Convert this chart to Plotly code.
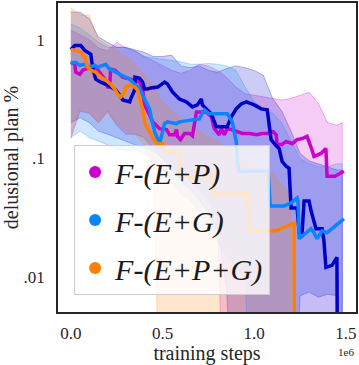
import numpy as np
import plotly.graph_objects as go

# training steps are in millions (axis shows "1e6" offset)
dark_x = [0.000, 0.022, 0.054, 0.076, 0.109, 0.120, 0.136, 0.163, 0.201, 0.217, 0.245, 0.266, 0.283, 0.321,
          0.326, 0.348, 0.350, 0.375, 0.391, 0.402, 0.418, 0.435, 0.473, 0.489, 0.511, 0.527, 0.554, 0.592,
          0.630, 0.663, 0.690, 0.712, 0.717, 0.739, 0.766, 0.793, 0.853, 0.875, 0.902, 0.929, 0.957, 1.000,
          1.038, 1.071, 1.082, 1.092, 1.114, 1.136, 1.152, 1.174, 1.190, 1.201, 1.234, 1.245, 1.261, 1.272,
          1.299, 1.310, 1.337, 1.370, 1.380, 1.391, 1.424, 1.451, 1.457]
dark_y = [0.825, 0.891, 0.891, 0.810, 0.750, 0.562, 0.464, 0.438, 0.414, 0.398, 0.376, 0.341, 0.310, 0.299,
          0.316, 0.376, 0.483, 0.473, 0.438, 0.383, 0.383, 0.391, 0.398, 0.414, 0.438, 0.422, 0.362, 0.316,
          0.299, 0.271, 0.282, 0.316, 0.282, 0.261, 0.237, 0.185, 0.185, 0.224, 0.261, 0.287, 0.299, 0.282,
          0.261, 0.256, 0.185, 0.144, 0.131, 0.121, 0.0944, 0.0858, 0.0825, 0.0383, 0.0383, 0.0237, 0.0237,
          0.0438, 0.0438, 0.0362, 0.0256, 0.0256, 0.0203, 0.0121, 0.0126, 0.0147, 0.0001]

ep_x = [0.000, 0.022, 0.027, 0.049, 0.065, 0.082, 0.109, 0.141, 0.185, 0.201, 0.212, 0.217, 0.239, 0.266,
        0.283, 0.348, 0.375, 0.391, 0.402, 0.429, 0.446, 0.484, 0.522, 0.538, 0.565, 0.576, 0.582, 0.598,
        0.620, 0.647, 0.663, 0.685, 0.739, 0.766, 0.783, 0.810, 0.821, 0.837, 0.853, 0.875, 0.902, 0.935,
        0.973, 1.016, 1.043, 1.071, 1.092, 1.103, 1.120, 1.125, 1.152, 1.174, 1.207, 1.234, 1.261, 1.288,
        1.310, 1.326, 1.364, 1.391, 1.397, 1.440, 1.489]
ep_y = [0.643, 0.619, 0.531, 0.511, 0.552, 0.562, 0.585, 0.573, 0.464, 0.398, 0.398, 0.562, 0.552, 0.511,
        0.483, 0.455, 0.438, 0.383, 0.282, 0.233, 0.203, 0.178, 0.175, 0.158, 0.158, 0.175, 0.153, 0.144,
        0.162, 0.162, 0.155, 0.246, 0.246, 0.224, 0.178, 0.158, 0.178, 0.158, 0.178, 0.175, 0.168, 0.162,
        0.162, 0.158, 0.162, 0.162, 0.165, 0.168, 0.158, 0.131, 0.131, 0.139, 0.133, 0.144, 0.147, 0.153,
        0.124, 0.104, 0.110, 0.121, 0.0708, 0.0708, 0.0779]

eg_x = [0.000, 0.027, 0.049, 0.076, 0.103, 0.130, 0.147, 0.174, 0.190, 0.212, 0.228, 0.245, 0.266, 0.293,
        0.321, 0.348, 0.375, 0.402, 0.429, 0.440, 0.457, 0.484, 0.511, 0.527, 0.576, 0.592, 0.674, 0.701,
        0.728, 0.755, 0.853, 0.880, 0.902, 0.908, 0.918, 1.076, 1.087, 1.163, 1.201, 1.234, 1.239, 1.245,
        1.310, 1.326, 1.342, 1.370, 1.397, 1.489]
eg_y = [0.631, 0.643, 0.607, 0.619, 0.585, 0.607, 0.585, 0.607, 0.619, 0.562, 0.552, 0.531, 0.511, 0.483,
        0.464, 0.422, 0.383, 0.316, 0.261, 0.215, 0.168, 0.133, 0.196, 0.203, 0.196, 0.203, 0.211, 0.215,
        0.256, 0.237, 0.237, 0.203, 0.139, 0.0944, 0.0779, 0.0779, 0.0398, 0.0398, 0.0422, 0.0464, 0.0438,
        0.0211, 0.0256, 0.0237, 0.0211, 0.0246, 0.0237, 0.031]

epg_x = [0.000, 0.027, 0.054, 0.076, 0.092, 0.109, 0.136, 0.163, 0.190, 0.217, 0.239, 0.255, 0.272, 0.293,
         0.299, 0.321, 0.348, 0.364, 0.375, 0.391, 0.402, 0.418, 0.440, 0.457, 0.473, 0.500, 0.516, 0.587,
         0.598, 0.772, 0.777, 0.962, 0.973, 1.120, 1.217, 1.223]
epg_y = [0.825, 0.810, 0.779, 0.708, 0.585, 0.552, 0.531, 0.483, 0.455, 0.422, 0.383, 0.348, 0.329, 0.362,
         0.398, 0.414, 0.398, 0.376, 0.316, 0.261, 0.203, 0.178, 0.158, 0.139, 0.133, 0.133, 0.114, 0.114,
         0.0708, 0.0708, 0.0501, 0.0501, 0.0246, 0.0246, 0.0287, 0.0001]

# +/- std bands
band_x = [0.00, 0.05, 0.10, 0.15, 0.20, 0.25, 0.30, 0.35, 0.40, 0.45, 0.50, 0.55, 0.60, 0.65, 0.70, 0.75,
          0.80, 0.85, 0.90, 0.95, 1.00, 1.05, 1.10, 1.15, 1.20, 1.25, 1.30, 1.35, 1.40, 1.45, 1.48]
dark_hi = [1.70, 1.70, 1.50, 1.05, 0.95, 0.86, 0.86, 0.82, 0.78, 0.72, 0.72, 0.74, 0.60, 0.58, 0.60, 0.55,
           0.53, 0.57, 0.60, 0.58, 0.55, 0.50, 0.32, 0.25, 0.17, 0.11, 0.095, 0.09, 0.085, 0.08, 0.08]
dark_lo = [0.20, 0.22, 0.20, 0.17, 0.16, 0.15, 0.14, 0.13, 0.125, 0.115, 0.10, 0.08, 0.065, 0.055, 0.045,
           0.035, 0.025, 0.008, 0.0001, 0.0001, 0.0001, 0.0001, 0.0001, 0.0001, 0.0001, 0.007, 0.0075,
           0.0068, 0.0072, 0.007, 0.0001]
ep_hi = [1.20, 1.10, 1.00, 0.85, 0.80, 0.95, 0.85, 0.80, 0.72, 0.66, 0.60, 0.55, 0.52, 0.55, 0.62, 0.60,
         0.55, 0.48, 0.40, 0.35, 0.34, 0.33, 0.32, 0.31, 0.32, 0.34, 0.36, 0.29, 0.20, 0.19, 0.20]
ep_lo = [0.147, 0.25, 0.24, 0.20, 0.25, 0.19, 0.16, 0.16, 0.15, 0.12, 0.10, 0.085, 0.075, 0.065, 0.055,
         0.045, 0.03, 0.0001, 0.0001, 0.0001, 0.0001, 0.0001, 0.0001, 0.0001, 0.0001, 0.0001, 0.0001,
         0.0001, 0.0001, 0.0001, 0.0001]
eg_hi = [1.35, 1.25, 1.10, 0.95, 0.86, 0.86, 0.86, 0.80, 0.72, 0.70, 0.68, 0.66, 0.65, 0.62, 0.62, 0.63,
         0.62, 0.60, 0.55, 0.40, 0.30, 0.26, 0.24, 0.20, 0.14, 0.10, 0.09, 0.085, 0.085, 0.09, 0.09]
eg_lo = [0.15, 0.17, 0.15, 0.14, 0.13, 0.12, 0.115, 0.12, 0.11, 0.095, 0.08, 0.065, 0.05, 0.045, 0.035,
         0.025, 0.02, 0.015, 0.012, 0.01, 0.0001, 0.0001, 0.0001, 0.0001, 0.0001, 0.0001, 0.0001, 0.0001,
         0.0001, 0.0001, 0.0001]
epg_hi = [1.85, 1.62, 1.60, 1.00, 0.90, 0.80, 0.72, 0.62, 0.50, 0.40, 0.30, 0.25, 0.22, 0.19, 0.17, 0.15,
          0.14, 0.12, 0.11, 0.10, 0.09, 0.08, 0.075, 0.06, 0.05]
epg_lo = [0.16, 0.26, 0.24, 0.20, 0.24, 0.20, 0.17, 0.16, 0.13, 0.08, 0.0001, 0.0001, 0.0001, 0.0001,
          0.0001, 0.0001, 0.0001, 0.0001, 0.0001, 0.0001, 0.0001, 0.0001, 0.0001, 0.0001, 0.0001]

series = [
    # name, x, y, hi, lo, rgb, in legend
    ("F-(E+P)", ep_x, ep_y, ep_hi, ep_lo, (204, 0, 204), True),
    ("F", dark_x, dark_y, dark_hi, dark_lo, (0, 0, 200), False),
    ("F-(E+G)", eg_x, eg_y, eg_hi, eg_lo, (10, 132, 255), True),
    ("F-(E+P+G)", epg_x, epg_y, epg_hi, epg_lo, (255, 128, 0), True),
]

FONT = "Liberation Serif"
fig = go.Figure()

for name, x, y, hi, lo, c, _ in series:
    bx = np.array(band_x[:len(hi)]) * 1e6
    fig.add_trace(go.Scatter(
        x=np.concatenate([bx, bx[::-1]]),
        y=list(hi) + list(lo)[::-1],
        fill="toself",
        fillcolor="rgba(%d,%d,%d,0.2)" % c,
        line=dict(color="rgba(%d,%d,%d,0.35)" % c, width=0.8),
        mode="lines", showlegend=False, hoverinfo="skip",
    ))

for name, x, y, hi, lo, c, _ in series:
    fig.add_trace(go.Scatter(
        x=np.array(x) * 1e6, y=y, mode="lines",
        line=dict(color="rgb(%d,%d,%d)" % c, width=3.5),
        showlegend=False, name=name,
    ))

# legend entries drawn as dots
for name, x, y, hi, lo, c, show in series:
    if not show:
        continue
    fig.add_trace(go.Scatter(
        x=[None], y=[None], mode="markers", name="<i>%s</i>" % name,
        marker=dict(color="rgb(%d,%d,%d)" % c, size=13),
        legendgroup=name,
    ))

fig.update_layout(
    width=359, height=365,
    margin=dict(l=58, r=2, t=1, b=53),
    paper_bgcolor="white", plot_bgcolor="white",
    font=dict(family=FONT, color="#262626", size=17),
    legend=dict(
        x=0.054, y=0.055, xanchor="left", yanchor="bottom",
        bgcolor="rgba(255,255,255,0.8)", bordercolor="#cccccc", borderwidth=1,
        font=dict(family=FONT, size=30, color="#1a1a1a"),
        tracegroupgap=6, itemsizing="constant",
    ),
    xaxis=dict(
        range=[-0.07e6, 1.555e6],
        tickvals=[0, 0.5e6, 1.0e6, 1.5e6], ticktext=["0.0", "0.5", "1.0", "1.5"],
        showgrid=False, zeroline=False,
        showline=True, mirror=True, linecolor="#262626", linewidth=1.5,
        ticks="outside", ticklen=5, tickcolor="rgba(0,0,0,0)",
        title=dict(text="training steps", font=dict(size=20), standoff=7),
    ),
    yaxis=dict(
        type="log", range=[np.log10(0.0051), np.log10(2.03)],
        tickvals=[0.01, 0.1, 1], ticktext=[".01", ".1", "1"],
        showgrid=False, zeroline=False,
        showline=True, mirror=True, linecolor="#262626", linewidth=1.5,
        ticks="outside", ticklen=8, tickcolor="rgba(0,0,0,0)",
        title=dict(text="delusional plan %", font=dict(size=20), standoff=8),
    ),
)

fig.add_annotation(
    text="1e6", x=1, y=0, xref="paper", yref="paper", xanchor="center", yanchor="top",
    xshift=-10, yshift=-32, showarrow=False, font=dict(size=11, family=FONT),
)

# the page body has a default 8px margin; drop it so the figure sits at the corner
fig.write_html("out.html", config={"displayModeBar": False},
               post_script="document.body.style.margin='0px';")
